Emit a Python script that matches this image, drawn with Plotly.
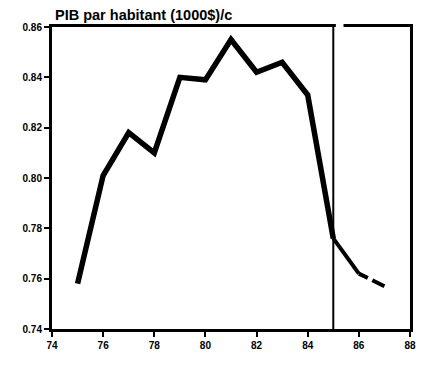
import plotly.graph_objects as go

# PIB par habitant, 1975-1987
years = [75, 76, 77, 78, 79, 80, 81, 82, 83, 84, 85]
pib = [0.758, 0.801, 0.818, 0.810, 0.840, 0.839, 0.855, 0.842, 0.846, 0.833, 0.776]

# prévisions après 85
years_prev = [85, 86, 87]
pib_prev = [0.776, 0.762, 0.757]

x_ticks = [74, 76, 78, 80, 82, 84, 86, 88]
y_ticks = [0.74, 0.76, 0.78, 0.80, 0.82, 0.84, 0.86]

# la page a une marge de 8px : la figure est donc un peu plus petite que la fenêtre
W, H = 419, 354

fig = go.Figure()
fig.add_trace(
    go.Scatter(
        x=years,
        y=pib,
        mode='lines',
        line=dict(color='black', width=5.5),
        hoverinfo='x+y'
    )
)
fig.add_trace(
    go.Scatter(
        x=years_prev[:2],
        y=pib_prev[:2],
        mode='lines',
        line=dict(color='black', width=4),
        hoverinfo='x+y'
    )
)
# dernier segment, légèrement interrompu
fig.add_trace(
    go.Scatter(
        x=years_prev[1:],
        y=pib_prev[1:],
        mode='lines',
        line=dict(color='black', width=4, dash='10px,5px,40px'),
        hoverinfo='x+y'
    )
)

fig.update_layout(
    width=W,
    height=H,
    margin={'t': 19, 'b': 19, 'l': 44, 'r': 11},
    plot_bgcolor='white',
    paper_bgcolor='white',
    showlegend=False,
    font=dict(family='Liberation Sans', color='black'),
    title=dict(
        text='PIB par habitant (1000$)/c',
        x=47 / W,
        xanchor='left',
        xref='container',
        y=1 - 7 / H,
        yanchor='middle',
        yref='container',
        font=dict(size=14.5, weight=700, color='black')
    ),
    shapes=[
        # trait vertical en 1985
        dict(type='line', xref='x', yref='paper', x0=85, x1=85, y0=0, y1=1,
             line=dict(color='black', width=2)),
        # coupure du cadre en haut
        dict(type='rect', xref='x', yref='paper', x0=85.1, x1=85.4, y0=0.99, y1=1.02,
             fillcolor='white', line=dict(width=0), layer='above'),
    ]
)

fig.update_xaxes(
    range=[74, 88],
    tickvals=x_ticks,
    ticktext=[str(t) for t in x_ticks],
    showgrid=False,
    zeroline=False,
    showline=True,
    linecolor='black',
    linewidth=3,
    mirror=True,
    ticks='outside',
    ticklen=5,
    tickwidth=2,
    tickcolor='black',
    ticklabeloverflow='allow',
    tickfont=dict(size=10, weight=700)
)
fig.update_yaxes(
    range=[0.74, 0.86],
    tickvals=y_ticks,
    ticktext=['%.2f' % t for t in y_ticks],
    showgrid=False,
    zeroline=False,
    showline=True,
    linecolor='black',
    linewidth=3,
    mirror=True,
    ticks='outside',
    ticklen=5,
    tickwidth=2,
    tickcolor='black',
    tickfont=dict(size=10, weight=700)
)

fig.write_html("out.html")
